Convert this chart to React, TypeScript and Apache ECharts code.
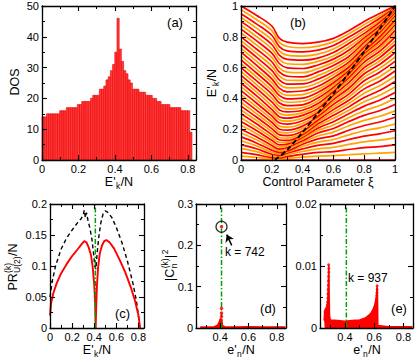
import React, { useEffect, useRef } from "react";
import * as echarts from "echarts";

const FONT = "'Liberation Sans', Arial, Helvetica, sans-serif";

// ---------- (a) density of states ----------
const DOS_BIN_WIDTH = 0.0121;
const DOS_COUNTS = [14, 14, 15, 15, 15, 15, 15, 15, 16, 16, 16, 17, 17, 17, 17, 17, 18, 18, 19, 19, 19, 19, 20, 21, 21, 21, 23, 23, 24, 26, 27, 29, 31, 35, 46, 36, 32, 29, 28, 26, 25, 23, 23, 23, 22, 22, 22, 21, 21, 21, 20, 20, 19, 19, 18, 18, 18, 18, 17, 17, 17, 17, 17, 16, 16, 16, 16, 9];

// ---------- (b) spectrum E'_k/N vs control parameter (one array per xi value, one entry per level) ----------
const XI_GRID = [0, 0.1, 0.2, 0.25, 0.3, 0.4, 0.5, 0.6, 0.7, 0.8, 0.9, 1.0];
const LV_XI00 = [0, .025, .05, .075, .1, .125, .15, .175, .2, .225, .25, .275, .3, .325, .35, .375, .4, .425, .45, .475, .5, .525, .55, .575, .6, .625, .65, .675, .7, .725, .75, .775, .8, .825, .85, .875, .9, .925, .95, .975, 1];
const LV_XI10 = [0, .017, .035, .054, .073, .092, .111, .131, .151, .171, .192, .213, .235, .257, .279, .301, .324, .347, .37, .394, .418, .442, .466, .49, .515, .54, .565, .59, .616, .642, .668, .694, .721, .748, .775, .802, .829, .856, .884, .912, .94];
const LV_XI20 = [0, .007, .015, .025, .037, .05, .064, .079, .094, .111, .128, .146, .165, .184, .204, .224, .245, .265, .286, .307, .328, .352, .377, .402, .428, .452, .477, .502, .527, .554, .582, .61, .638, .666, .694, .722, .75, .78, .81, .84, .87];
const LV_XI25 = [0, .006, .013, .021, .03, .04, .05, .06, .07, .083, .098, .114, .13, .146, .163, .181, .2, .22, .24, .26, .28, .302, .325, .347, .37, .394, .418, .441, .465, .491, .518, .544, .57, .597, .625, .652, .68, .707, .735, .762, .79];
const LV_XI30 = [0, .012, .023, .034, .044, .052, .058, .069, .081, .092, .103, .115, .127, .142, .158, .176, .194, .213, .233, .252, .272, .292, .312, .332, .353, .375, .397, .42, .443, .468, .493, .518, .544, .571, .598, .625, .653, .681, .709, .737, .765];
const LV_XI40 = [0, .019, .037, .055, .072, .088, .102, .114, .125, .137, .148, .156, .165, .176, .188, .204, .22, .237, .255, .272, .29, .306, .323, .34, .358, .38, .402, .425, .448, .471, .494, .517, .54, .567, .594, .621, .648, .675, .702, .729, .756];
const LV_XI50 = [0, .025, .049, .072, .095, .116, .137, .156, .175, .191, .207, .221, .235, .248, .26, .272, .284, .296, .308, .321, .335, .351, .367, .385, .403, .421, .44, .459, .479, .502, .525, .548, .572, .594, .617, .64, .662, .687, .713, .739, .765];
const LV_XI60 = [0, .028, .055, .082, .108, .133, .157, .181, .205, .227, .249, .27, .29, .309, .327, .344, .361, .377, .392, .406, .42, .433, .446, .459, .472, .487, .502, .518, .535, .554, .573, .593, .614, .634, .655, .676, .698, .721, .744, .767, .79];
const LV_XI70 = [0, .034, .068, .101, .133, .163, .193, .222, .25, .275, .3, .323, .345, .367, .388, .408, .428, .447, .466, .484, .502, .519, .535, .548, .56, .571, .582, .593, .604, .62, .636, .654, .672, .692, .713, .735, .757, .777, .798, .819, .84];
const LV_XI80 = [0, .04, .08, .118, .155, .19, .224, .257, .29, .32, .35, .378, .406, .434, .462, .489, .515, .538, .56, .58, .6, .618, .636, .652, .668, .68, .692, .7, .708, .721, .735, .75, .765, .779, .793, .807, .822, .84, .858, .879, .9];
const LV_XI90 = [0, .044, .087, .129, .17, .209, .247, .284, .32, .354, .388, .42, .451, .482, .512, .541, .57, .595, .62, .643, .665, .685, .705, .723, .74, .756, .772, .786, .8, .814, .828, .841, .853, .862, .872, .884, .895, .907, .92, .935, .951];
const LV_XI100 = [0, .049, .098, .144, .19, .234, .278, .319, .36, .399, .438, .474, .51, .544, .578, .609, .64, .669, .698, .724, .75, .774, .798, .819, .84, .859, .878, .894, .91, .924, .938, .949, .96, .969, .978, .984, .99, .994, .998, .999, 1];
const LEVEL_COLUMNS = [LV_XI00, LV_XI10, LV_XI20, LV_XI25, LV_XI30, LV_XI40, LV_XI50, LV_XI60, LV_XI70, LV_XI80, LV_XI90, LV_XI100];
const ESQPT_XI = [0.22, 0.3, 0.4, 0.5, 0.6, 0.7, 0.8, 0.9, 1.0];
const ESQPT_E = [0, 0.065, 0.18, 0.305, 0.43, 0.565, 0.705, 0.85, 1.0];

// ---------- (c) participation ratio ----------
const PR_RED_X = [0, 0.01, 0.03, 0.06, 0.1, 0.15, 0.2, 0.25, 0.29, 0.31, 0.33, 0.35, 0.37, 0.385, 0.4, 0.408, 0.413, 0.418, 0.425, 0.435, 0.45, 0.47, 0.49, 0.51, 0.54, 0.58, 0.63, 0.68, 0.73, 0.77, 0.8, 0.815];
const PR_RED_Y = [0.02, 0.04, 0.056, 0.072, 0.088, 0.103, 0.116, 0.127, 0.136, 0.14, 0.138, 0.13, 0.118, 0.1, 0.07, 0.04, 0.0, 0.035, 0.07, 0.098, 0.12, 0.133, 0.14, 0.142, 0.138, 0.128, 0.11, 0.09, 0.066, 0.043, 0.02, 0];
const PR_BLK_X = [0, 0.02, 0.05, 0.1, 0.15, 0.2, 0.25, 0.28, 0.3, 0.31, 0.32, 0.33, 0.345, 0.36, 0.38, 0.395, 0.405, 0.415, 0.425, 0.44, 0.46, 0.48, 0.5, 0.52, 0.56, 0.6, 0.65, 0.7, 0.75, 0.78, 0.8, 0.81];
const PR_BLK_Y = [0.05, 0.075, 0.1, 0.127, 0.145, 0.158, 0.17, 0.176, 0.182, 0.19, 0.178, 0.186, 0.172, 0.162, 0.142, 0.118, 0.1, 0.095, 0.118, 0.145, 0.17, 0.184, 0.189, 0.187, 0.178, 0.162, 0.138, 0.108, 0.072, 0.045, 0.02, 0];
const ESQPT_LINE_X = 0.41;

// ---------- (d) |C_n^(k)|^2, k = 742 ----------
const D_BASE_X = [0.26, 0.3, 0.36, 0.385, 0.4, 0.408, 0.413, 0.43, 0.5, 0.6, 0.7, 0.86];
const D_BASE_Y = [0.0015, 0.0015, 0.002, 0.006, 0.016, 0.022, 0.005, 0.002, 0.0015, 0.002, 0.0015, 0.0015];
const D_PTS_X = [0.41, 0.41, 0.41, 0.405];
const D_PTS_Y = [0.048, 0.036, 0.028, 0.02];
const D_PEAK = [0.41, 0.245];
const D_ARROW_FROM = [0.482, 0.2];
const D_ARROW_TO = [0.447, 0.226];

// ---------- (e) |C_n^(k)|^2, k = 937 ----------
const E_ENV_X = [0.258, 0.262, 0.27, 0.278, 0.283, 0.287, 0.29, 0.292, 0.295, 0.3, 0.35, 0.4, 0.45, 0.5, 0.54, 0.57, 0.59, 0.605, 0.615, 0.62, 0.623, 0.625, 0.7, 0.86];
const E_ENV_Y = [0.0012, 0.0025, 0.003, 0.0033, 0.0045, 0.007, 0.0102, 0.006, 0.002, 0.0013, 0.0012, 0.0011, 0.0012, 0.0013, 0.0016, 0.0022, 0.0028, 0.0037, 0.005, 0.0068, 0.0045, 0.0004, 0.0002, 0.0002];
const E_DOT_X = [0.289, 0.29, 0.29, 0.289, 0.288, 0.287, 0.286, 0.285, 0.284, 0.282, 0.28, 0.276, 0.272, 0.268, 0.264, 0.62, 0.62, 0.619, 0.618, 0.616, 0.613, 0.609, 0.604, 0.598, 0.59];
const E_DOT_Y = [0.0102, 0.0096, 0.009, 0.0083, 0.0076, 0.0069, 0.0062, 0.0055, 0.0048, 0.0042, 0.0037, 0.0033, 0.003, 0.0029, 0.0026, 0.0068, 0.0062, 0.0057, 0.0052, 0.0047, 0.0042, 0.0038, 0.0034, 0.003, 0.0027];

const RED = "#ff0000";
const ORANGE = "#ffa500";
const GREEN = "#00a000";

type AxisSpec = { min: number; max: number; interval?: number; splitNumber?: number; hideMin?: boolean; hideMax?: boolean };

function makeAxes(gi: number, xs: AxisSpec, ys: AxisSpec) {
  const line = { show: true, onZero: false, lineStyle: { color: "#000", width: 1.3 } };
  const tick = { show: true, inside: true, length: 5, lineStyle: { color: "#000", width: 1.1 } };
  const minor = { show: true, splitNumber: 2, length: 3, lineStyle: { color: "#000", width: 1 } };
  const base = (s: AxisSpec) => {
    const o: any = {
      type: "value", gridIndex: gi, min: s.min, max: s.max, z: 10,
      axisLine: line, axisTick: tick, minorTick: minor,
      splitLine: { show: false }, minorSplitLine: { show: false },
    };
    if (s.interval !== undefined) o.interval = s.interval;
    if (s.splitNumber !== undefined) o.splitNumber = s.splitNumber;
    return o;
  };
  const lab = (s: AxisSpec, margin: number) => ({
    show: true, color: "#000", fontSize: 11, fontFamily: FONT, margin,
    showMinLabel: !s.hideMin, showMaxLabel: !s.hideMax,
  });
  return {
    x: [
      { ...base(xs), position: "bottom", axisLabel: lab(xs, 3) },
      { ...base(xs), position: "top", axisLabel: { show: false } },
    ],
    y: [
      { ...base(ys), position: "left", axisLabel: lab(ys, 3) },
      { ...base(ys), position: "right", axisLabel: { show: false } },
    ],
  };
}

let measureCtx: CanvasRenderingContext2D | null = null;
function tw(text: string, size: number) {
  if (!measureCtx) measureCtx = document.createElement("canvas").getContext("2d");
  measureCtx!.font = `${size}px ${FONT}`;
  return measureCtx!.measureText(text).width;
}

function txt(text: string, x: number, y: number, size: number, align = "left") {
  return {
    type: "text", x, y, z: 20,
    style: { text, fontSize: size, fontFamily: FONT, fill: "#000", align, verticalAlign: "middle", textAlign: align, textVerticalAlign: "middle" },
  };
}

type Part = { t?: string; sub?: string; sup?: string };
function mathLabel(parts: Part[], cx: number, cy: number, rotated: boolean) {
  const MAIN = 12.5, SMALL = 8.5;
  let x = 0;
  const children: any[] = [];
  for (const p of parts) {
    if (p.t) {
      children.push(txt(p.t, x, 0, MAIN));
      x += tw(p.t, MAIN);
    } else {
      const w = Math.max(p.sub ? tw(p.sub, SMALL) : 0, p.sup ? tw(p.sup, SMALL) : 0);
      if (p.sub) children.push(txt(p.sub, x + 0.3, 4, SMALL));
      if (p.sup) children.push(txt(p.sup, x + 0.3, -5.5, SMALL));
      x += w + 0.8;
    }
  }
  children.forEach((c) => (c.x -= x / 2));
  return { type: "group", x: cx, y: cy, rotation: rotated ? Math.PI / 2 : 0, children };
}

function zip(xs: number[], ys: number[]) {
  return xs.map((x, i) => [x, ys[i]]);
}

function buildOption() {
  const grids = [
    { left: 42, top: 6, width: 154, height: 154 },
    { left: 241, top: 6, width: 154, height: 154 },
    { left: 50, top: 204, width: 94, height: 124 },
    { left: 196, top: 204, width: 90, height: 124 },
    { left: 320, top: 204, width: 93, height: 124 },
  ].map((g) => ({ ...g, show: false, containLabel: false, outerBoundsMode: "none" }));

  const specs: [AxisSpec, AxisSpec][] = [
    [{ min: 0, max: 0.845, interval: 0.2, hideMax: true }, { min: 0, max: 50, interval: 10 }],
    [{ min: 0, max: 1, interval: 0.2 }, { min: 0, max: 1, interval: 0.2 }],
    [{ min: 0, max: 0.85, interval: 0.2, hideMax: true }, { min: 0, max: 0.2, interval: 0.05 }],
    [{ min: 0.23, max: 0.865, splitNumber: 3, hideMin: true, hideMax: true }, { min: 0, max: 0.3, interval: 0.1 }],
    [{ min: 0.23, max: 0.865, splitNumber: 3, hideMin: true, hideMax: true }, { min: 0, max: 0.02, interval: 0.01 }],
  ];
  const xAxis: any[] = [];
  const yAxis: any[] = [];
  specs.forEach(([xs, ys], gi) => {
    const a = makeAxes(gi, xs, ys);
    xAxis.push(...a.x);
    yAxis.push(...a.y);
  });
  const ax = (gi: number) => ({ xAxisIndex: gi * 2, yAxisIndex: gi * 2 });

  const series: any[] = [];

  // (a) histogram
  series.push({
    type: "custom", ...ax(0), silent: true,
    data: DOS_COUNTS.map((c, i) => [i * DOS_BIN_WIDTH, (i + 1) * DOS_BIN_WIDTH, c]),
    encode: { x: [0, 1], y: 2 },
    renderItem: (_p: any, api: any) => {
      const a = api.coord([api.value(0), api.value(2)]);
      const b = api.coord([api.value(1), 0]);
      return {
        type: "rect",
        shape: { x: a[0], y: a[1], width: b[0] - a[0], height: b[1] - a[1] },
        style: { fill: "#ff3a3a", stroke: "#e80000", lineWidth: 0.6 },
      };
    },
  });

  // (b) levels
  const nLevels = LV_XI00.length;
  for (let j = 0; j < nLevels; j++) {
    series.push({
      type: "line", ...ax(1), silent: true, showSymbol: false, symbol: "none",
      smooth: 0.35, z: 2,
      data: XI_GRID.map((xi, c) => [xi, LEVEL_COLUMNS[c][j]]),
      lineStyle: { color: j % 2 === 0 ? RED : ORANGE, width: 1.7 },
    });
  }
  series.push({
    type: "line", ...ax(1), silent: true, showSymbol: false, symbol: "none", smooth: 0.3, z: 4,
    data: zip(ESQPT_XI, ESQPT_E),
    lineStyle: { color: "#000", width: 2, type: [5, 3] },
  });

  // (c)
  series.push({
    type: "line", ...ax(2), silent: true, showSymbol: false, symbol: "none", z: 3,
    data: zip(PR_BLK_X, PR_BLK_Y),
    lineStyle: { color: "#000", width: 1.4, type: [4, 3] },
  });
  series.push({
    type: "line", ...ax(2), silent: true, showSymbol: false, symbol: "none", z: 3,
    data: zip(PR_RED_X, PR_RED_Y),
    lineStyle: { color: RED, width: 1.9 },
  });
  series.push({
    type: "line", ...ax(2), silent: true, showSymbol: false, symbol: "none", z: 4,
    data: [[ESQPT_LINE_X, 0], [ESQPT_LINE_X, 0.2]],
    lineStyle: { color: GREEN, width: 1.5, type: [5, 2, 1.5, 2] },
  });

  // (d)
  series.push({
    type: "line", ...ax(3), silent: true, showSymbol: false, symbol: "none", z: 3,
    data: zip(D_BASE_X, D_BASE_Y),
    lineStyle: { color: RED, width: 2.5 }, areaStyle: { color: RED, opacity: 1 },
  });
  series.push({
    type: "line", ...ax(3), silent: true, showSymbol: false, symbol: "none", z: 4,
    data: [[ESQPT_LINE_X, 0], [ESQPT_LINE_X, 0.3]],
    lineStyle: { color: GREEN, width: 1.5, type: [5, 2, 1.5, 2] },
  });
  series.push({
    type: "scatter", ...ax(3), silent: true, z: 5, symbolSize: 3.5,
    data: [...zip(D_PTS_X, D_PTS_Y), D_PEAK],
    itemStyle: { color: RED },
  });
  series.push({
    type: "scatter", ...ax(3), silent: true, z: 6, symbol: "circle", symbolSize: 11,
    data: [D_PEAK],
    itemStyle: { color: "rgba(0,0,0,0)", borderColor: "#000", borderWidth: 1.3 },
  });
  series.push({
    type: "lines", coordinateSystem: "cartesian2d", ...ax(3), silent: true, z: 6,
    data: [{ coords: [D_ARROW_FROM, D_ARROW_TO] }],
    symbol: ["none", "arrow"], symbolSize: 7,
    lineStyle: { color: "#000", width: 1.5, opacity: 1, curveness: 0 },
  });

  // (e)
  series.push({
    type: "line", ...ax(4), silent: true, showSymbol: false, symbol: "none", z: 3,
    data: zip(E_ENV_X, E_ENV_Y),
    lineStyle: { color: RED, width: 1.5 }, areaStyle: { color: RED, opacity: 1 },
  });
  series.push({
    type: "scatter", ...ax(4), silent: true, z: 4, symbolSize: 3,
    data: zip(E_DOT_X, E_DOT_Y),
    itemStyle: { color: RED },
  });
  series.push({
    type: "line", ...ax(4), silent: true, showSymbol: false, symbol: "none", z: 5,
    data: [[ESQPT_LINE_X, 0], [ESQPT_LINE_X, 0.02]],
    lineStyle: { color: GREEN, width: 1.5, type: [5, 2, 1.5, 2] },
  });

  const Ek: Part[] = [{ t: "E'" }, { sub: "k" }, { t: "/N" }];
  const en: Part[] = [{ t: "e'" }, { sub: "n" }, { t: "/N" }];
  const graphic: any[] = [
    mathLabel([{ t: "DOS" }], 15, 82, true),
    mathLabel(Ek, 119, 182, false),
    mathLabel(Ek, 212, 83, true),
    mathLabel([{ t: "Control Parameter ξ" }], 318, 182, false),
    mathLabel([{ t: "PR" }, { sub: "U(2)", sup: "(k)" }, { t: "/N" }], 13, 267, true),
    mathLabel(Ek, 97, 350, false),
    mathLabel([{ t: "|C" }, { sub: "n", sup: "(k)" }, { t: "|" }, { sup: "2" }], 170, 265, true),
    mathLabel(en, 241, 350, false),
    mathLabel(en, 367, 350, false),
    txt("(a)", 175, 22.5, 13, "center"),
    txt("(b)", 298, 22.5, 13, "center"),
    txt("(c)", 122.5, 313, 13, "center"),
    txt("(d)", 268, 308, 13, "center"),
    txt("(e)", 399, 308, 13, "center"),
    txt("k = 742", 225, 252, 12, "left"),
    txt("k = 937", 348, 278, 12, "left"),
  ];

  return {
    animation: false,
    backgroundColor: "#ffffff",
    textStyle: { fontFamily: FONT },
    grid: grids,
    xAxis,
    yAxis,
    series,
    graphic,
  };
}

export default function App() {
  const ref = useRef<HTMLDivElement>(null);
  useEffect(() => {
    const chart = echarts.init(ref.current!, null, { renderer: "svg" });
    chart.setOption(buildOption() as any);
    return () => chart.dispose();
  }, []);
  return (
    <div
      ref={ref}
      style={{ position: "absolute", left: 0, top: 0, width: 415, height: 360, background: "#fff" }}
    />
  );
}
